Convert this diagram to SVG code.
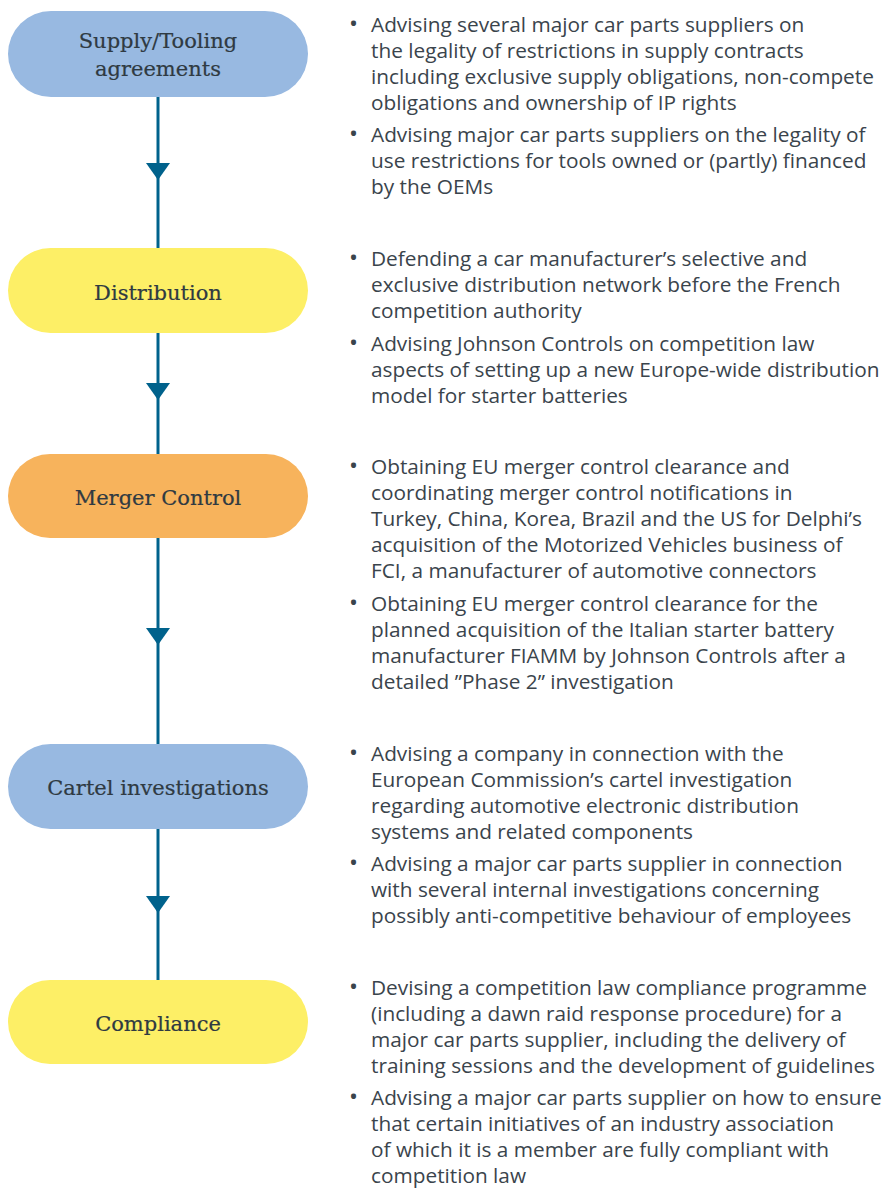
<svg xmlns="http://www.w3.org/2000/svg" width="888" height="1189" viewBox="0 0 888 1189">
<style>
.node-blue{fill:#98b9e1}
.node-yellow{fill:#fdef66}
.node-orange{fill:#f7b35c}
.label{font-family:"DejaVu Serif","Liberation Serif",serif;font-size:21px;fill:#2f3a42;text-anchor:middle;stroke:#2f3a42;stroke-width:0.2}
.body{font-family:"Open Sans","Noto Sans",sans-serif;font-size:20.8px;fill:#3a444c}
.bullet{font-family:"Open Sans","Noto Sans",sans-serif;font-size:24px;fill:#3a444c}
.conn{stroke:#00628c;stroke-width:3;fill:none}
.head{fill:#00628c}
</style>
<rect width="888" height="1189" fill="#ffffff"/>
<g id="connectors">
<line class="conn" x1="158" y1="97" x2="158" y2="248"/>
<polygon class="head" points="146,163 170,163 158,180"/>
<line class="conn" x1="158" y1="333" x2="158" y2="454"/>
<polygon class="head" points="146,383 170,383 158,400"/>
<line class="conn" x1="158" y1="538" x2="158" y2="744"/>
<polygon class="head" points="146,628 170,628 158,645"/>
<line class="conn" x1="158" y1="829" x2="158" y2="980"/>
<polygon class="head" points="146,896 170,896 158,913"/>
</g>
<g id="node-supply">
<rect class="node-blue" x="8" y="11" width="300" height="86" rx="43"/>
<text class="label" x="158" y="48">Supply/Tooling</text>
<text class="label" x="158" y="76">agreements</text>
</g>
<g id="node-distribution">
<rect class="node-yellow" x="8" y="248" width="300" height="85" rx="42.5"/>
<text class="label" x="158" y="300">Distribution</text>
</g>
<g id="node-merger">
<rect class="node-orange" x="8" y="454" width="300" height="84" rx="42"/>
<text class="label" x="158" y="505">Merger Control</text>
</g>
<g id="node-cartel">
<rect class="node-blue" x="8" y="744" width="300" height="85" rx="42.5"/>
<text class="label" x="158" y="795">Cartel investigations</text>
</g>
<g id="node-compliance">
<rect class="node-yellow" x="8" y="980" width="300" height="84" rx="42"/>
<text class="label" x="158" y="1031">Compliance</text>
</g>
<g id="text-supply">
<text class="bullet" x="349" y="32">•</text>
<text class="body" x="371" y="32">Advising several major car parts suppliers on</text>
<text class="body" x="371" y="58">the legality of restrictions in supply contracts</text>
<text class="body" x="371" y="84">including exclusive supply obligations, non-compete</text>
<text class="body" x="371" y="110">obligations and ownership of IP rights</text>
<text class="bullet" x="349" y="142">•</text>
<text class="body" x="371" y="142">Advising major car parts suppliers on the legality of</text>
<text class="body" x="371" y="168">use restrictions for tools owned or (partly) financed</text>
<text class="body" x="371" y="194">by the OEMs</text>
</g>
<g id="text-distribution">
<text class="bullet" x="349" y="266">•</text>
<text class="body" x="371" y="266">Defending a car manufacturer’s selective and</text>
<text class="body" x="371" y="292">exclusive distribution network before the French</text>
<text class="body" x="371" y="318">competition authority</text>
<text class="bullet" x="349" y="351">•</text>
<text class="body" x="371" y="351">Advising Johnson Controls on competition law</text>
<text class="body" x="371" y="377">aspects of setting up a new Europe-wide distribution</text>
<text class="body" x="371" y="403">model for starter batteries</text>
</g>
<g id="text-merger">
<text class="bullet" x="349" y="474">•</text>
<text class="body" x="371" y="474">Obtaining EU merger control clearance and</text>
<text class="body" x="371" y="500">coordinating merger control notifications in</text>
<text class="body" x="371" y="526">Turkey, China, Korea, Brazil and the US for Delphi’s</text>
<text class="body" x="371" y="552">acquisition of the Motorized Vehicles business of</text>
<text class="body" x="371" y="578">FCI, a manufacturer of automotive connectors</text>
<text class="bullet" x="349" y="611">•</text>
<text class="body" x="371" y="611">Obtaining EU merger control clearance for the</text>
<text class="body" x="371" y="637">planned acquisition of the Italian starter battery</text>
<text class="body" x="371" y="663">manufacturer FIAMM by Johnson Controls after a</text>
<text class="body" x="371" y="689">detailed ”Phase 2” investigation</text>
</g>
<g id="text-cartel">
<text class="bullet" x="349" y="761">•</text>
<text class="body" x="371" y="761">Advising a company in connection with the</text>
<text class="body" x="371" y="787">European Commission’s cartel investigation</text>
<text class="body" x="371" y="813">regarding automotive electronic distribution</text>
<text class="body" x="371" y="839">systems and related components</text>
<text class="bullet" x="349" y="871">•</text>
<text class="body" x="371" y="871">Advising a major car parts supplier in connection</text>
<text class="body" x="371" y="897">with several internal investigations concerning</text>
<text class="body" x="371" y="923">possibly anti-competitive behaviour of employees</text>
</g>
<g id="text-compliance">
<text class="bullet" x="349" y="995">•</text>
<text class="body" x="371" y="995">Devising a competition law compliance programme</text>
<text class="body" x="371" y="1021">(including a dawn raid response procedure) for a</text>
<text class="body" x="371" y="1047">major car parts supplier, including the delivery of</text>
<text class="body" x="371" y="1073">training sessions and the development of guidelines</text>
<text class="bullet" x="349" y="1105">•</text>
<text class="body" x="371" y="1105">Advising a major car parts supplier on how to ensure</text>
<text class="body" x="371" y="1131">that certain initiatives of an industry association</text>
<text class="body" x="371" y="1157">of which it is a member are fully compliant with</text>
<text class="body" x="371" y="1183">competition law</text>
</g>
</svg>
